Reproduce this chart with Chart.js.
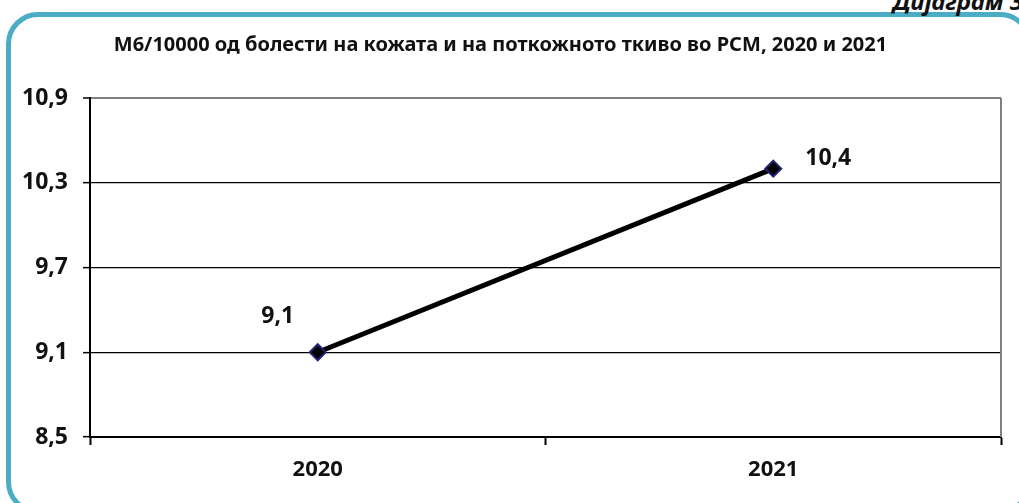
<!DOCTYPE html>
<html><head><meta charset="utf-8">
<script src="https://cdn.jsdelivr.net/npm/chart.js@4.4.1/dist/chart.umd.min.js"></script>
<style>
html,body{margin:0;padding:0;background:#fff;width:1019px;height:503px;overflow:hidden;position:relative;}
#frame{position:absolute;left:6px;top:12px;width:1026px;height:502px;border:5px solid #4BACC6;border-radius:32px;box-sizing:border-box;}
#cap{position:absolute;right:-4px;top:-16px;font:italic bold 24px "Noto Sans",sans-serif;color:#111;white-space:nowrap;}
#wrap{position:absolute;left:0;top:0;width:1019px;height:503px;}
</style></head><body>
<div id="frame"></div>
<div id="cap">Дијаграм 3</div>
<div id="wrap"><canvas id="c" width="1019" height="503"></canvas></div>
<script>
const categories = ['2020', '2021'];
const values = [9.1, 10.4];
const valueLabels = ['9,1', '10,4'];
const yTicks = [8.5, 9.1, 9.7, 10.3, 10.9];
const titleText = 'М6/10000 од болести на кожата и на поткожното ткиво во РСМ, 2020 и 2021';

const FONT = '"Noto Sans", sans-serif';

const labelPlugin = {
  id: 'valLabels',
  afterDatasetsDraw(chart) {
    const ctx = chart.ctx;
    const meta = chart.getDatasetMeta(0);
    const offs = [[-40, -36], [55, -10]];
    ctx.save();
    ctx.font = 'bold 23px ' + FONT;
    ctx.fillStyle = '#111';
    ctx.textAlign = 'center';
    ctx.textBaseline = 'middle';
    meta.data.forEach((pt, i) => {
      ctx.fillText(valueLabels[i], pt.x + offs[i][0], pt.y + offs[i][1]);
    });
    ctx.restore();
  }
};
const borderPlugin = {
  id: 'rightBorder',
  afterDraw(chart) {
    const a = chart.chartArea, ctx = chart.ctx;
    ctx.save();
    ctx.strokeStyle = '#808080';
    ctx.lineWidth = 2;
    ctx.beginPath();
    ctx.moveTo(a.right, a.top);
    ctx.lineTo(a.right, a.bottom);
    ctx.stroke();
    ctx.restore();
  }
};

new Chart(document.getElementById('c'), {
  type: 'line',
  data: {
    labels: categories,
    datasets: [{
      data: values,
      borderColor: '#000',
      borderWidth: 5,
      pointStyle: 'rectRot',
      pointRadius: 8,
      pointBackgroundColor: '#000',
      pointBorderColor: '#22227a',
      pointBorderWidth: 2,
      tension: 0
    }]
  },
  options: {
    responsive: false,
    animation: false,
    layout: { padding: { left: 0, right: 18, top: 0, bottom: 0 } },
    plugins: {
      legend: { display: false },
      tooltip: { enabled: false },
      title: {
        display: true,
        text: titleText,
        color: '#111',
        font: { family: FONT, size: 20, weight: 'bold', lineHeight: 1.2 },
        padding: { top: 33, bottom: 41 }
      }
    },
    scales: {
      x: {
        offset: true,
        afterFit(s) { s.height = 66; },
        grid: { offset: true, drawOnChartArea: false, drawTicks: true, tickLength: 8, tickColor: '#000', tickWidth: 2 },
        border: { color: '#000', width: 2 },
        ticks: { color: '#111', padding: 12, font: { family: FONT, size: 22, weight: 'bold' } }
      },
      y: {
        min: 8.5, max: 10.9,
        afterFit(s) { s.width = 90; },
        afterBuildTicks(s) { s.ticks = yTicks.map(v => ({ value: v })); },
        grid: {
          color: c => c.tick && c.tick.value === 10.9 ? '#808080' : '#000',
          lineWidth: c => c.tick && c.tick.value === 10.9 ? 2 : 1.3,
          tickColor: '#000', tickLength: 7, tickWidth: 1.5
        },
        border: { color: '#000', width: 2 },
        ticks: {
          color: '#111', padding: 15,
          font: { family: FONT, size: 23, weight: 'bold' },
          callback: v => String(Number(v).toFixed(1)).replace('.', ',')
        }
      }
    }
  },
  plugins: [labelPlugin, borderPlugin]
});
</script>
</body></html>
